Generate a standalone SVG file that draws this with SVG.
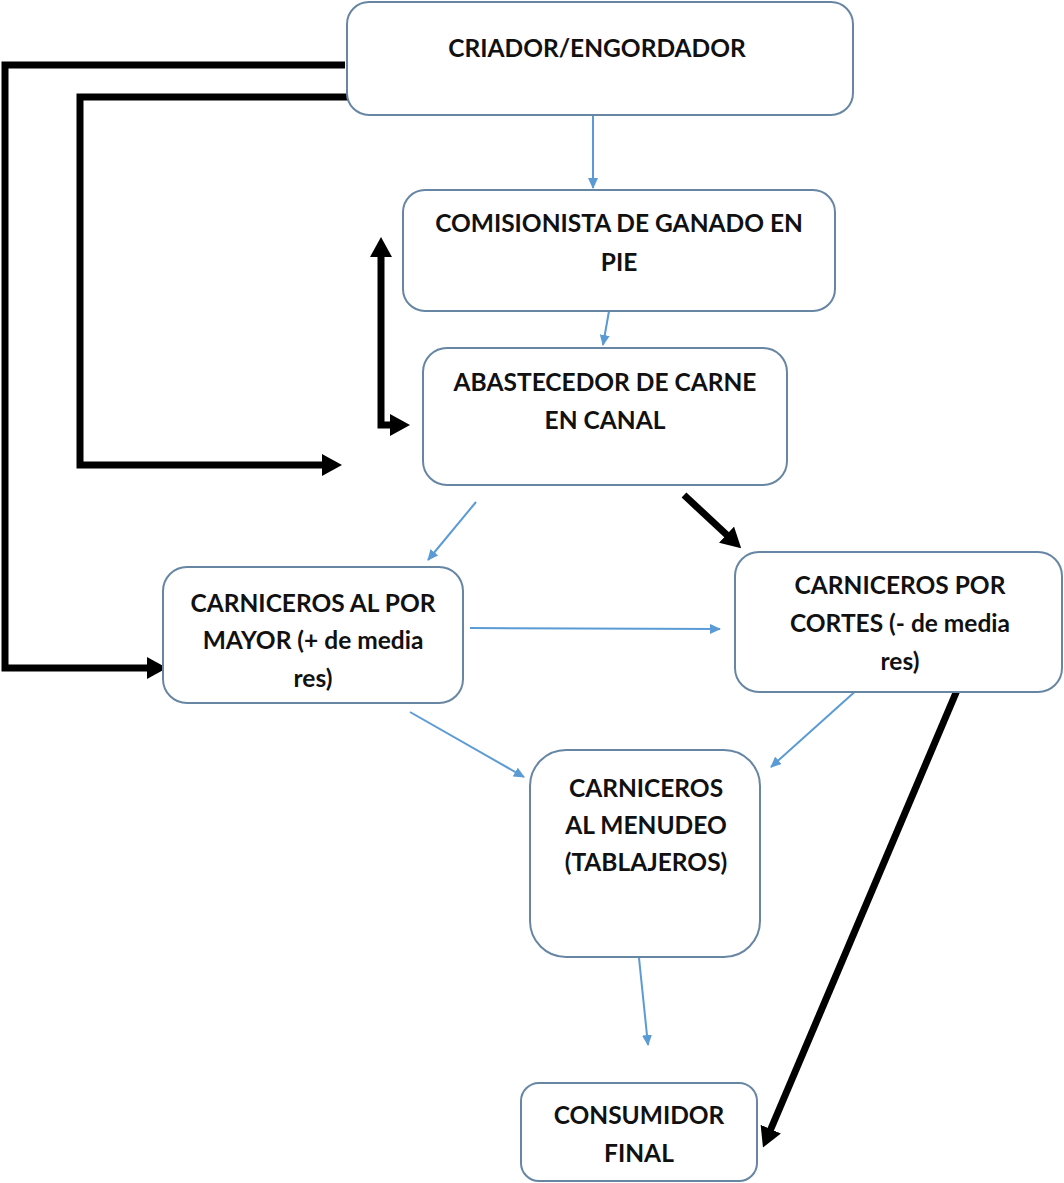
<svg xmlns="http://www.w3.org/2000/svg" width="1064" height="1183" viewBox="0 0 1064 1183">
<style>
.box{fill:#fff;stroke:#6786a4;stroke-width:2}
.t{font-family:Lato,"Open Sans","Liberation Sans",sans-serif;font-weight:bold;font-size:24.5px;fill:#111;text-anchor:middle}
.blue{stroke:#5b9bd5;stroke-width:2;fill:none}
.blk{stroke:#000;stroke-width:7;fill:none}
</style>
<defs>
<marker id="ab" markerWidth="11" markerHeight="10" refX="10" refY="5" orient="auto" markerUnits="userSpaceOnUse" viewBox="0 0 11 10">
<path d="M0,0 L11,5 L0,10 Z" fill="#5b9bd5"/>
</marker>
<marker id="ak" markerWidth="20" markerHeight="22" refX="2" refY="11" orient="auto" markerUnits="userSpaceOnUse" viewBox="0 0 20 22">
<path d="M0,0 L20,11 L0,22 Z" fill="#000"/>
</marker>
<marker id="aks" markerWidth="20" markerHeight="22" refX="2" refY="11" orient="auto-start-reverse" markerUnits="userSpaceOnUse" viewBox="0 0 20 22">
<path d="M0,0 L20,11 L0,22 Z" fill="#000"/>
</marker>
</defs>
<rect width="1064" height="1183" fill="#fff"/>
<g id="connectors">
<line class="blue" x1="593" y1="115" x2="593" y2="188" marker-end="url(#ab)"/>
<line class="blue" x1="609" y1="311" x2="603" y2="345" marker-end="url(#ab)"/>
<line class="blue" x1="476" y1="502" x2="428" y2="560" marker-end="url(#ab)"/>
<line class="blue" x1="470" y1="628" x2="720" y2="629" marker-end="url(#ab)"/>
<line class="blue" x1="410" y1="712" x2="524" y2="777" marker-end="url(#ab)"/>
<line class="blue" x1="859" y1="688" x2="771" y2="767" marker-end="url(#ab)"/>
<line class="blue" x1="639" y1="958" x2="648" y2="1045" marker-end="url(#ab)"/>
<path class="blk" d="M345 65 H5 V668 H149" marker-end="url(#ak)"/>
<path class="blk" d="M350 97 H80 V465 H324" marker-end="url(#ak)"/>
<path class="blk" d="M381 255 V425 H392" marker-start="url(#aks)" marker-end="url(#ak)"/>
<line class="blk" x1="684" y1="495" x2="728" y2="536" marker-end="url(#ak)"/>
<line class="blk" x1="958" y1="688" x2="770" y2="1131" marker-end="url(#ak)"/>
</g>
<g id="criador">
<rect class="box" x="347" y="2" width="506" height="113" rx="22"/>
<text class="t" x="597" y="57">CRIADOR/ENGORDADOR</text>
</g>
<g id="comisionista">
<rect class="box" x="403" y="190" width="432" height="121" rx="22"/>
<text class="t" x="619" y="232">COMISIONISTA DE GANADO EN</text>
<text class="t" x="619" y="271">PIE</text>
</g>
<g id="abastecedor">
<rect class="box" x="423" y="348" width="364" height="137" rx="24"/>
<text class="t" x="605" y="391">ABASTECEDOR DE CARNE</text>
<text class="t" x="605" y="429">EN CANAL</text>
</g>
<g id="mayor">
<rect class="box" x="163" y="567" width="300" height="136" rx="24"/>
<text class="t" x="313" y="612">CARNICEROS AL POR</text>
<text class="t" x="313" y="649">MAYOR (+ de media</text>
<text class="t" x="313" y="687">res)</text>
</g>
<g id="cortes">
<rect class="box" x="735" y="552" width="327" height="140" rx="24"/>
<text class="t" x="900" y="594">CARNICEROS POR</text>
<text class="t" x="900" y="632">CORTES (- de media</text>
<text class="t" x="900" y="670">res)</text>
</g>
<g id="menudeo">
<rect class="box" x="530" y="750" width="230" height="207" rx="36"/>
<text class="t" x="646" y="797">CARNICEROS</text>
<text class="t" x="646" y="834">AL MENUDEO</text>
<text class="t" x="646" y="871">(TABLAJEROS)</text>
</g>
<g id="consumidor">
<rect class="box" x="521" y="1083" width="236" height="98" rx="18"/>
<text class="t" x="639" y="1124">CONSUMIDOR</text>
<text class="t" x="639" y="1162">FINAL</text>
</g>
</svg>
